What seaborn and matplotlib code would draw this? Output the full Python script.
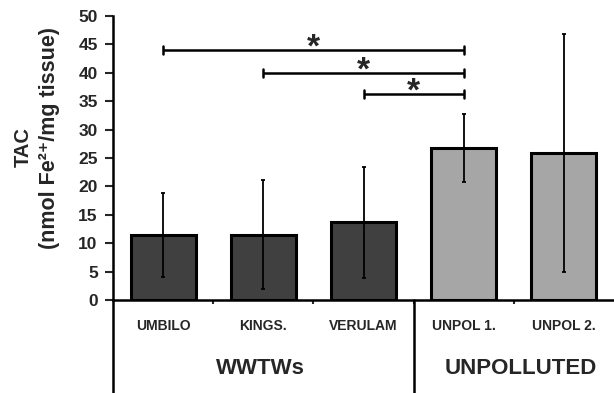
import matplotlib
matplotlib.use("Agg")
import matplotlib.pyplot as plt
import matplotlib.transforms as mtransforms
import seaborn as sns
import pandas as pd

# Total antioxidant capacity per site (mean and SD)
sites = ["UMBILO", "KINGS.", "VERULAM", "UNPOL 1.", "UNPOL 2."]
groups = ["WWTWs", "WWTWs", "WWTWs", "UNPOLLUTED", "UNPOLLUTED"]
tac_mean = [11.4, 11.5, 13.7, 26.8, 25.9]
tac_sd = [7.4, 9.6, 9.8, 6.0, 21.0]

# Significant pairwise differences (bar index pairs) and bracket heights
sig_pairs = [(0, 3), (1, 3), (2, 3)]
sig_heights = [44.0, 40.0, 36.3]

sns.set_theme(style="white")
plt.rcParams["font.family"] = ["Liberation Sans", "DejaVu Sans"]
plt.rcParams["font.weight"] = "bold"

df = pd.DataFrame({"site": sites, "group": groups, "tac": tac_mean})
palette = {"WWTWs": "#404040", "UNPOLLUTED": "#a6a6a6"}

fig = plt.figure(figsize=(6.14, 3.93), dpi=100)
ax = fig.add_axes([113 / 614, 1 - 300 / 393, 1 - 113 / 614, (300 - 16) / 393])

sns.barplot(data=df, x="site", y="tac", hue="group", palette=palette,
            dodge=False, width=0.65, edgecolor="black", linewidth=2.2,
            legend=False, ax=ax)
ax.errorbar(range(len(sites)), tac_mean, yerr=tac_sd, fmt="none",
            ecolor="black", elinewidth=1.3, capsize=1.5, capthick=1.3)

# Significance brackets with asterisks
for (a, b), h in zip(sig_pairs, sig_heights):
    ax.plot([a, b], [h, h], color="black", lw=1.8, solid_capstyle="butt")
    for xe in (a, b):
        ax.plot([xe, xe], [h - 0.75, h + 0.75], color="black", lw=1.8)
    ax.text((a + b) / 2, h - 1.2, "*", ha="center", va="baseline",
            fontsize=24, fontweight="bold")

ax.set_xlim(-0.5, len(sites) - 0.5)
ax.set_ylim(0, 50)
ax.set_yticks(range(0, 51, 5))
ax.tick_params(axis="y", labelsize=12.5, length=6, width=1.5, direction="out",
               pad=5, left=True)
ax.set_xticks(range(len(sites)))
ax.set_xticklabels(sites, fontsize=10, fontweight="bold")
ax.tick_params(axis="x", length=0, pad=14)
ax.set_xticks([i + 0.5 for i in range(len(sites) - 1)], minor=True)
ax.tick_params(axis="x", which="minor", length=3, width=1.5, bottom=True,
               direction="out")
for lbl in ax.get_yticklabels():
    lbl.set_fontweight("bold")

ax.set_xlabel("")
ax.set_ylabel("")
# Two-line y-axis title
fig.text(23 / 614, 1 - 147 / 393, "TAC", rotation=90, ha="center",
         va="center", fontsize=14.5, fontweight="bold")
fig.text(50 / 614, 1 - 138 / 393, "(nmol Fe²⁺/mg tissue)", rotation=90,
         ha="center", va="center", fontsize=15.5, fontweight="bold")

for side in ("top", "right"):
    ax.spines[side].set_visible(False)
for side in ("left", "bottom"):
    ax.spines[side].set_color("black")
    ax.spines[side].set_linewidth(1.8)

# Group separators and group names below the axis
trans = mtransforms.blended_transform_factory(ax.transData, fig.transFigure)
y_axis_fig = 1 - 300 / 393
for xs in (-0.5, 2.5):
    ax.plot([xs, xs], [0, y_axis_fig], transform=trans, color="black",
            lw=1.8, clip_on=False)
ax.text(0.97, 1 - 368 / 393, "WWTWs", transform=trans, ha="center",
        va="center", fontsize=16, fontweight="bold")
ax.text(3.57, 1 - 368 / 393, "UNPOLLUTED", transform=trans, ha="center",
        va="center", fontsize=16, fontweight="bold")

fig.savefig("out.png", dpi=100)
